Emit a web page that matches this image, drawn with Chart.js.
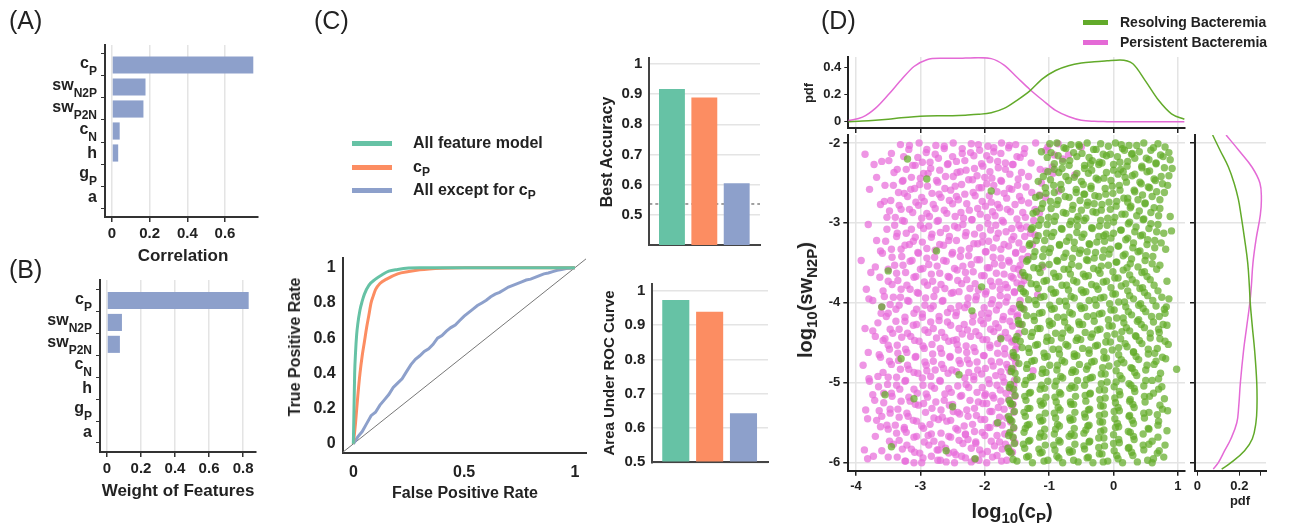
<!DOCTYPE html>
<html>
<head>
<meta charset="utf-8">
<script src="https://cdn.jsdelivr.net/npm/chart.js@4.4.1/dist/chart.umd.min.js"></script>
<style>
  html, body { margin: 0; padding: 0; background: #fff; }
  body { width: 1302px; height: 529px; position: relative; overflow: hidden;
         font-family: 'Liberation Sans', Arial, sans-serif; color: #222; }
  canvas { position: absolute; left: 0; top: 0; }
  .p { position: absolute; font-size: 25px; line-height: 1; z-index: 2; }
  .t { position: absolute; font-weight: bold; white-space: nowrap; line-height: 1; z-index: 2;
       transform: translate(-50%, -50%); }
  .r { transform: translate(-50%, -50%) rotate(-90deg); }
  .lg { position: absolute; font-weight: bold; white-space: nowrap; line-height: 1; z-index: 2;
        transform: translateY(-50%); }
  .sw { position: absolute; z-index: 2; }
  sub { font-size: 0.75em; vertical-align: -0.35em; line-height: 0; }
</style>
</head>
<body>
<div class="p" style="left:9px;top:8px">(A)</div>
<div class="p" style="left:9px;top:257px">(B)</div>
<div class="p" style="left:314px;top:8px">(C)</div>
<div class="p" style="left:821px;top:8px">(D)</div>

<div class="t" style="left:183px;top:255px;font-size:17px">Correlation</div>
<div class="t" style="left:178px;top:490px;font-size:17px">Weight of Features</div>
<div class="t r" style="left:295px;top:347px;font-size:16px">True Positive Rate</div>
<div class="t" style="left:465px;top:493px;font-size:16px">False Positive Rate</div>
<div class="t r" style="left:607px;top:152px;font-size:16px">Best Accuracy</div>
<div class="t r" style="left:608px;top:373px;font-size:15px">Area Under ROC Curve</div>
<div class="t r" style="left:808px;top:93px;font-size:13px">pdf</div>
<div class="t" style="left:1240px;top:500px;font-size:13px">pdf</div>
<div class="t" style="left:1012px;top:511px;font-size:20px">log<sub>10</sub>(c<sub>P</sub>)</div>
<div class="t r" style="left:805px;top:300px;font-size:20px">log<sub>10</sub>(sw<sub>N2P</sub>)</div>

<div class="sw" style="left:352px;top:141px;width:40px;height:5px;background:#66c2a5"></div>
<div class="sw" style="left:352px;top:165px;width:40px;height:5px;background:#fc8d62"></div>
<div class="sw" style="left:352px;top:188px;width:40px;height:5px;background:#8da0cb"></div>
<div class="lg" style="left:413px;top:143px;font-size:16px">All feature model</div>
<div class="lg" style="left:413px;top:167px;font-size:16px">c<sub>P</sub></div>
<div class="lg" style="left:413px;top:190px;font-size:16px">All except for c<sub>P</sub></div>

<div class="sw" style="left:1083px;top:20px;width:25px;height:5px;background:#62aa2a"></div>
<div class="sw" style="left:1083px;top:40px;width:25px;height:5px;background:#e46ad6"></div>
<div class="lg" style="left:1120px;top:22px;font-size:14px">Resolving Bacteremia</div>
<div class="lg" style="left:1120px;top:42px;font-size:14px">Persistent Bacteremia</div>

<script>
// ---- data ----
const featureBase = ['c', 'sw', 'sw', 'c', 'h', 'g', 'a'];
const featureSub = ['P', 'N2P', 'P2N', 'N', '', 'P', ''];
const correlation = [0.75, 0.178, 0.167, 0.041, 0.033, 0.004, 0];
const featureWeight = [0.833, 0.088, 0.076, 0, 0, 0, 0];
const corrTicks = [0, 0.2, 0.4, 0.6];
const weightTicks = [0, 0.2, 0.4, 0.6, 0.8];

const bestAccuracy = [0.917, 0.889, 0.605];
const accuracyBaseline = 0.536;
const rocAuc = [0.973, 0.939, 0.643];
const scoreTicks = [0.5, 0.6, 0.7, 0.8, 0.9, 1];

const fprAll = [0, 0.003, 0.006, 0.01, 0.015, 0.02, 0.03, 0.04, 0.05, 0.07, 0.1, 0.13, 0.16, 0.2, 0.25, 0.3, 0.5, 1];
const tprAll = [0, 0.2, 0.4, 0.52, 0.62, 0.68, 0.76, 0.81, 0.85, 0.9, 0.935, 0.96, 0.98, 0.99, 0.998, 1, 1, 1];
const fprCp = [0, 0.01, 0.02, 0.03, 0.04, 0.05, 0.06, 0.07, 0.08, 0.09, 0.1, 0.12, 0.15, 0.2, 0.25, 0.3, 0.4, 0.5, 1];
const tprCp = [0, 0.12, 0.27, 0.4, 0.5, 0.58, 0.66, 0.73, 0.8, 0.84, 0.875, 0.91, 0.935, 0.965, 0.978, 0.988, 0.997, 1, 1];
const fprNoCp = [0, 0.02, 0.04, 0.06, 0.08, 0.1, 0.12, 0.14, 0.16, 0.18, 0.2, 0.22, 0.24, 0.26, 0.28, 0.3, 0.32, 0.34, 0.36, 0.38,
  0.4, 0.42, 0.44, 0.46, 0.48, 0.5, 0.52, 0.54, 0.56, 0.58, 0.6, 0.62, 0.64, 0.66, 0.68, 0.7, 0.72, 0.74, 0.76, 0.78,
  0.8, 0.82, 0.84, 0.86, 0.88, 0.9, 0.92, 0.94, 0.96, 0.98, 1];
const tprNoCp = [0, 0.04, 0.07, 0.115, 0.16, 0.18, 0.22, 0.25, 0.28, 0.32, 0.345, 0.37, 0.41, 0.45, 0.48, 0.5, 0.525, 0.54, 0.565, 0.6,
  0.615, 0.64, 0.66, 0.675, 0.7, 0.725, 0.745, 0.765, 0.785, 0.8, 0.815, 0.835, 0.85, 0.86, 0.875, 0.89, 0.9, 0.91, 0.92, 0.93,
  0.935, 0.945, 0.955, 0.965, 0.97, 0.978, 0.985, 0.99, 0.995, 0.997, 1];
const chanceLine = [-0.05, 1.05];

const rocXTicks = [0, 0.5, 1];
const rocYTicks = [0, 0.2, 0.4, 0.6, 0.8, 1];

// marginal pdf of log10(cP)
const kdeCp = [-4.12, -3.9, -3.7, -3.5, -3.3, -3.1, -2.9, -2.7, -2.5, -2.3, -2.1, -1.9, -1.7, -1.5, -1.3, -1.1, -0.9, -0.7, -0.5, -0.3, -0.1, 0.1, 0.3, 0.5, 0.7, 0.9, 1.1];
const pdfCpPersistent = [0.01, 0.035, 0.1, 0.2, 0.31, 0.41, 0.46, 0.47, 0.47, 0.472, 0.475, 0.468, 0.42, 0.33, 0.24, 0.16, 0.085, 0.04, 0.012, 0.004, 0.002, 0.001, 0.001, 0.001, 0.001, 0.001, 0.001];
const pdfCpResolving = [0.002, 0.006, 0.012, 0.02, 0.03, 0.038, 0.043, 0.045, 0.046, 0.05, 0.056, 0.068, 0.1, 0.16, 0.23, 0.32, 0.38, 0.415, 0.435, 0.445, 0.452, 0.458, 0.43, 0.3, 0.16, 0.06, 0.02];
// marginal pdf of log10(swN2P)
const kdeSw = [-1.9, -2.1, -2.3, -2.5, -2.7, -2.9, -3.2, -3.5, -3.8, -4.0, -4.3, -4.6, -5.0, -5.3, -5.5, -5.7, -5.85, -6.0, -6.08];
const pdfSwPersistent = [0.137, 0.2, 0.26, 0.298, 0.305, 0.3, 0.28, 0.265, 0.257, 0.25, 0.235, 0.22, 0.205, 0.197, 0.188, 0.16, 0.13, 0.1, 0.076];
const pdfSwResolving = [0.073, 0.11, 0.148, 0.175, 0.195, 0.208, 0.225, 0.24, 0.248, 0.252, 0.262, 0.273, 0.283, 0.284, 0.279, 0.262, 0.225, 0.16, 0.116];

const cpTicks = [-4, -3, -2, -1, 0, 1];
const swTicks = [-6, -5, -4, -3, -2];
const pdfTopTicks = [0, 0.2, 0.4];
const pdfSideTicks = [0, 0.2, 0.3];

// [log10(cP), log10(swN2P)]
const persistentPts = [
  [-3.31,-2.02],[-3.02,-2.0],[-2.76,-2.03],[-2.49,-2.0],[-2.21,-2.01],[-1.95,-2.04],[-1.74,-2.0],[-1.52,-2.02],[-1.21,-2.0],[-0.86,-2.01],
  [-3.86,-2.14],[-3.18,-2.08],[-2.91,-2.12],[-2.63,-2.07],[-2.35,-2.13],[-2.08,-2.09],[-1.86,-2.11],[-1.63,-2.06],[-1.39,-2.13],[-1.05,-2.09],
  [-3.49,-2.22],[-3.26,-2.17],[-2.97,-2.24],[-2.72,-2.19],[-2.44,-2.23],[-2.17,-2.16],[-1.92,-2.21],[-1.68,-2.25],[-1.45,-2.18],[-0.79,-2.2],
  [-3.72,-2.27],[-3.36,-2.33],[-3.08,-2.28],[-2.84,-2.32],[-2.57,-2.26],[-2.29,-2.34],[-2.03,-2.29],[-1.79,-2.31],[-1.56,-2.27],[-1.14,-2.33],
  [-3.41,-2.37],[-3.14,-2.43],[-2.88,-2.38],[-2.61,-2.42],[-2.38,-2.36],[-2.12,-2.41],[-1.89,-2.44],[-1.61,-2.39],[-1.32,-2.42],[-0.94,-2.38],
  [-3.55,-2.53],[-3.27,-2.47],[-3.01,-2.52],[-2.73,-2.49],[-2.46,-2.54],[-2.19,-2.46],[-1.97,-2.51],[-1.74,-2.48],[-1.49,-2.53],[-1.12,-2.5],
  [-3.79,-2.58],[-3.34,-2.62],[-3.09,-2.57],[-2.82,-2.63],[-2.53,-2.59],[-2.31,-2.64],[-2.05,-2.56],[-1.81,-2.61],[-1.58,-2.58],[-1.27,-2.62],
  [-3.46,-2.72],[-3.2,-2.67],[-2.94,-2.73],[-2.68,-2.68],[-2.41,-2.71],[-2.15,-2.66],[-1.9,-2.74],[-1.66,-2.69],[-1.43,-2.72],[-1.06,-2.68],
  [-3.62,-2.77],[-3.3,-2.83],[-3.03,-2.78],[-2.77,-2.82],[-2.5,-2.76],[-2.24,-2.84],[-1.99,-2.79],[-1.77,-2.81],[-1.53,-2.77],[-1.22,-2.83],
  [-3.39,-2.93],[-3.12,-2.87],[-2.86,-2.92],[-2.59,-2.88],[-2.33,-2.94],[-2.07,-2.89],[-1.84,-2.91],[-1.6,-2.86],[-1.37,-2.93],[-1.15,-2.88],
  [-3.81,-3.02],[-3.28,-2.97],[-3.0,-3.03],[-2.74,-2.98],[-2.47,-3.04],[-2.2,-2.96],[-1.95,-3.01],[-1.71,-2.99],[-1.47,-3.03],[-1.24,-2.97],
  [-3.52,-3.08],[-3.22,-3.13],[-2.95,-3.07],[-2.69,-3.12],[-2.42,-3.06],[-2.16,-3.14],[-1.91,-3.09],[-1.67,-3.11],[-1.44,-3.07],[-1.29,-3.13],
  [-3.37,-3.17],[-3.11,-3.23],[-2.83,-3.18],[-2.56,-3.22],[-2.3,-3.16],[-2.04,-3.24],[-1.82,-3.19],[-1.58,-3.21],[-1.38,-3.17],[-3.68,-3.22],
  [-3.45,-3.33],[-3.17,-3.27],[-2.9,-3.32],[-2.64,-3.28],[-2.37,-3.34],[-2.11,-3.26],[-1.87,-3.31],[-1.63,-3.29],[-1.41,-3.33],[-1.26,-3.27],
  [-3.59,-3.38],[-3.29,-3.42],[-3.04,-3.37],[-2.78,-3.43],[-2.51,-3.39],[-2.25,-3.41],[-1.98,-3.36],[-1.75,-3.44],[-1.52,-3.38],[-1.33,-3.42],
  [-3.4,-3.53],[-3.13,-3.47],[-2.87,-3.52],[-2.6,-3.48],[-2.34,-3.54],[-2.08,-3.46],[-1.85,-3.51],[-1.62,-3.49],[-1.45,-3.53],[-3.92,-3.47],
  [-3.5,-3.58],[-3.23,-3.62],[-2.96,-3.57],[-2.7,-3.63],[-2.43,-3.59],[-2.18,-3.61],[-1.93,-3.56],[-1.7,-3.64],[-1.48,-3.58],[-3.77,-3.62],
  [-3.35,-3.72],[-3.07,-3.67],[-2.81,-3.73],[-2.55,-3.68],[-2.28,-3.71],[-2.01,-3.66],[-1.78,-3.74],[-1.56,-3.69],[-1.39,-3.72],[-3.63,-3.68],
  [-3.44,-3.77],[-3.16,-3.83],[-2.89,-3.78],[-2.62,-3.82],[-2.36,-3.76],[-2.1,-3.84],[-1.88,-3.79],[-1.65,-3.81],[-1.43,-3.77],[-3.84,-3.83],
  [-3.31,-3.93],[-3.05,-3.87],[-2.79,-3.92],[-2.52,-3.88],[-2.26,-3.94],[-1.99,-3.89],[-1.76,-3.91],[-1.54,-3.86],[-3.56,-3.92],[-2.4,-3.86],
  [-3.47,-4.02],[-3.2,-3.97],[-2.93,-4.03],[-2.66,-3.98],[-2.4,-4.04],[-2.14,-3.96],[-1.9,-4.01],[-1.67,-3.99],[-1.46,-4.03],[-3.74,-3.97],
  [-3.38,-4.08],[-3.1,-4.13],[-2.84,-4.07],[-2.58,-4.12],[-2.31,-4.06],[-2.05,-4.14],[-1.82,-4.09],[-1.59,-4.11],[-1.41,-4.07],[-3.61,-4.13],
  [-3.53,-4.17],[-3.24,-4.23],[-2.97,-4.18],[-2.71,-4.22],[-2.45,-4.16],[-2.19,-4.24],[-1.95,-4.19],[-1.72,-4.21],[-1.5,-4.17],[-2.58,-4.24],
  [-3.33,-4.33],[-3.06,-4.27],[-2.8,-4.32],[-2.53,-4.28],[-2.27,-4.34],[-2.02,-4.26],[-1.79,-4.31],[-1.57,-4.29],[-3.86,-4.32],[-1.44,-4.27],
  [-3.43,-4.38],[-3.15,-4.42],[-2.88,-4.37],[-2.62,-4.43],[-2.35,-4.39],[-2.09,-4.41],[-1.86,-4.36],[-1.64,-4.44],[-1.47,-4.38],[-3.7,-4.42],
  [-3.36,-4.53],[-3.09,-4.47],[-2.82,-4.52],[-2.56,-4.48],[-2.29,-4.54],[-2.03,-4.46],[-1.8,-4.51],[-1.58,-4.49],[-3.58,-4.47],[-2.44,-4.46],
  [-3.48,-4.58],[-3.21,-4.62],[-2.94,-4.57],[-2.67,-4.63],[-2.41,-4.59],[-2.15,-4.61],[-1.92,-4.56],[-1.69,-4.64],[-1.52,-4.58],[-3.81,-4.62],
  [-3.34,-4.72],[-3.07,-4.67],[-2.8,-4.73],[-2.54,-4.68],[-2.27,-4.71],[-2.01,-4.66],[-1.77,-4.74],[-1.55,-4.69],[-3.62,-4.68],[-2.12,-4.74],
  [-3.45,-4.77],[-3.18,-4.83],[-2.91,-4.78],[-2.64,-4.82],[-2.38,-4.76],[-2.11,-4.84],[-1.87,-4.79],[-1.64,-4.81],[-3.89,-4.78],[-2.77,-4.84],
  [-3.37,-4.93],[-3.1,-4.87],[-2.84,-4.92],[-2.57,-4.88],[-2.31,-4.94],[-2.05,-4.89],[-1.83,-4.91],[-1.61,-4.86],[-3.66,-4.92],[-2.44,-4.86],
  [-3.51,-5.02],[-3.23,-4.97],[-2.96,-5.03],[-2.69,-4.98],[-2.42,-5.04],[-2.17,-4.96],[-1.93,-5.01],[-1.7,-4.99],[-1.55,-5.03],[-3.79,-4.98],
  [-3.32,-5.08],[-3.05,-5.13],[-2.78,-5.07],[-2.52,-5.12],[-2.25,-5.06],[-1.99,-5.14],[-1.76,-5.09],[-1.57,-5.11],[-3.57,-5.13],[-2.62,-5.14],
  [-3.44,-5.17],[-3.16,-5.23],[-2.89,-5.18],[-2.63,-5.22],[-2.36,-5.16],[-2.1,-5.24],[-1.86,-5.19],[-1.63,-5.21],[-3.71,-5.22],[-2.0,-5.16],
  [-3.35,-5.33],[-3.08,-5.27],[-2.82,-5.32],[-2.55,-5.28],[-2.28,-5.34],[-2.03,-5.26],[-1.79,-5.31],[-1.58,-5.29],[-3.85,-5.34],[-2.95,-5.26],
  [-3.47,-5.38],[-3.19,-5.42],[-2.92,-5.37],[-2.66,-5.43],[-2.39,-5.39],[-2.13,-5.41],[-1.89,-5.36],[-1.66,-5.44],[-3.6,-5.42],[-2.49,-5.36],
  [-3.39,-5.53],[-3.11,-5.47],[-2.85,-5.52],[-2.59,-5.48],[-2.32,-5.54],[-2.06,-5.46],[-1.82,-5.51],[-1.6,-5.49],[-3.68,-5.47],[-2.72,-5.46],
  [-3.5,-5.58],[-3.22,-5.62],[-2.95,-5.57],[-2.68,-5.63],[-2.42,-5.59],[-2.16,-5.61],[-1.92,-5.56],[-1.69,-5.64],[-3.25,-5.56],[-2.3,-5.64],
  [-3.33,-5.72],[-3.06,-5.67],[-2.79,-5.73],[-2.53,-5.68],[-2.26,-5.71],[-2.0,-5.66],[-1.77,-5.74],[-1.56,-5.69],[-2.88,-5.66],[-2.14,-5.74],
  [-3.87,-5.84],[-3.42,-5.77],[-3.14,-5.83],[-2.87,-5.78],[-2.61,-5.82],[-2.34,-5.76],[-2.08,-5.84],[-1.85,-5.79],[-1.63,-5.81],[-2.72,-5.84],
  [-3.36,-5.93],[-3.09,-5.87],[-2.83,-5.92],[-2.56,-5.88],[-2.3,-5.94],[-2.04,-5.89],[-1.81,-5.91],[-1.6,-5.86],[-3.73,-5.92],[-2.45,-5.9],
  [-3.24,-5.98],[-2.98,-6.0],[-2.73,-5.97],[-2.47,-6.0],[-2.21,-5.99],[-1.97,-6.0],[-1.74,-5.98],[-2.6,-5.99],[-3.1,-6.0],[-2.09,-5.97],
  [-0.95,-2.3],[-0.7,-2.15],[-0.5,-2.05],[-1.1,-3.55],[-0.85,-2.6],[-1.25,-4.85],[-0.6,-2.4],[-1.18,-3.9],
  [-3.17,-2.03],[-2.9,-2.08],[-2.63,-2.04],[-2.35,-2.07],[-2.1,-2.02],[-1.86,-2.06],[-1.62,-2.03],[-1.38,-2.07],[-1.02,-2.05],
  [-3.45,-2.13],[-3.04,-2.18],[-2.77,-2.14],[-2.5,-2.17],[-2.22,-2.12],[-1.97,-2.16],[-1.75,-2.13],[-1.5,-2.17],[-0.92,-2.15],
  [-3.6,-2.23],[-3.12,-2.28],[-2.85,-2.24],[-2.58,-2.27],[-2.31,-2.22],[-2.05,-2.26],[-1.8,-2.23],[-1.57,-2.27],[-1.28,-2.25],
  [-3.22,-2.33],[-2.95,-2.38],[-2.7,-2.34],[-2.43,-2.37],[-2.16,-2.32],[-1.92,-2.36],[-1.68,-2.33],[-1.43,-2.37],[-1.05,-2.35],
  [-3.68,-2.43],[-3.28,-2.48],[-3.0,-2.44],[-2.75,-2.47],[-2.49,-2.42],[-2.25,-2.46],[-2.0,-2.43],[-1.75,-2.47],[-1.48,-2.45],
  [-3.42,-2.53],[-3.15,-2.58],[-2.89,-2.54],[-2.62,-2.57],[-2.36,-2.52],[-2.09,-2.56],[-1.86,-2.53],[-1.62,-2.57],[-1.36,-2.55],
  [-3.25,-2.63],[-2.98,-2.68],[-2.71,-2.64],[-2.44,-2.67],[-2.18,-2.62],[-1.93,-2.66],[-1.7,-2.63],[-1.46,-2.67],[-1.15,-2.65],
  [-3.56,-2.73],[-3.33,-2.78],[-3.07,-2.74],[-2.8,-2.77],[-2.55,-2.72],[-2.28,-2.76],[-2.04,-2.73],[-1.8,-2.77],[-1.32,-2.75],
  [-3.17,-2.83],[-2.9,-2.88],[-2.63,-2.84],[-2.37,-2.87],[-2.11,-2.82],[-1.88,-2.86],[-1.65,-2.83],[-1.41,-2.87],[-3.48,-2.85],
  [-3.52,-2.93],[-3.25,-2.98],[-2.98,-2.94],[-2.72,-2.97],[-2.46,-2.92],[-2.2,-2.96],[-1.96,-2.93],[-1.73,-2.97],[-1.5,-2.95],
  [-3.4,-3.03],[-3.14,-3.08],[-2.87,-3.04],[-2.6,-3.07],[-2.34,-3.02],[-2.08,-3.06],[-1.83,-3.03],[-1.58,-3.07],[-1.35,-3.05],
  [-3.36,-3.13],[-3.08,-3.18],[-2.82,-3.14],[-2.55,-3.17],[-2.29,-3.12],[-2.03,-3.16],[-1.79,-3.13],[-1.55,-3.17],[-1.22,-3.15],
  [-3.54,-3.23],[-3.24,-3.28],[-2.97,-3.24],[-2.7,-3.27],[-2.44,-3.22],[-2.17,-3.26],[-1.94,-3.23],[-1.7,-3.27],[-1.47,-3.25],
  [-3.3,-3.33],[-3.03,-3.38],[-2.77,-3.34],[-2.5,-3.37],[-2.24,-3.32],[-1.99,-3.36],[-1.75,-3.33],[-1.52,-3.37],[-3.62,-3.35],
  [-3.44,-3.43],[-3.16,-3.48],[-2.9,-3.44],[-2.64,-3.47],[-2.38,-3.42],[-2.12,-3.46],[-1.87,-3.43],[-1.63,-3.47],[-1.42,-3.45],
  [-3.27,-3.53],[-3.0,-3.58],[-2.74,-3.54],[-2.47,-3.57],[-2.21,-3.52],[-1.96,-3.56],[-1.73,-3.53],[-1.55,-3.57],[-3.7,-3.55],
  [-3.37,-3.63],[-3.1,-3.68],[-2.83,-3.64],[-2.57,-3.67],[-2.3,-3.62],[-2.05,-3.66],[-1.82,-3.63],[-1.59,-3.67],[-1.44,-3.65],
  [-3.5,-3.73],[-3.21,-3.78],[-2.94,-3.74],[-2.68,-3.77],[-2.42,-3.72],[-2.15,-3.76],[-1.91,-3.73],[-1.68,-3.77],[-1.5,-3.75],
  [-3.3,-3.83],[-3.03,-3.88],[-2.76,-3.84],[-2.49,-3.87],[-2.23,-3.82],[-1.98,-3.86],[-1.76,-3.83],[-1.54,-3.87],[-3.58,-3.85],
  [-3.42,-3.93],[-3.18,-3.98],[-2.92,-3.94],[-2.65,-3.97],[-2.13,-3.92],[-1.88,-3.96],[-1.65,-3.93],[-1.45,-3.97],[-3.8,-3.95],
  [-3.33,-4.03],[-3.06,-4.08],[-2.8,-4.04],[-2.53,-4.07],[-2.27,-4.02],[-2.01,-4.06],[-1.78,-4.03],[-1.56,-4.07],[-3.6,-4.05],
  [-3.5,-4.13],[-3.24,-4.18],[-2.97,-4.14],[-2.71,-4.17],[-2.44,-4.12],[-2.18,-4.16],[-1.94,-4.13],[-1.71,-4.17],[-1.49,-4.15],
  [-3.38,-4.23],[-3.11,-4.28],[-2.84,-4.24],[-2.32,-4.27],[-2.06,-4.22],[-1.83,-4.26],[-1.61,-4.23],[-1.46,-4.27],[-3.66,-4.25],
  [-3.47,-4.33],[-3.2,-4.38],[-2.93,-4.34],[-2.67,-4.37],[-2.4,-4.32],[-2.14,-4.36],[-1.91,-4.33],[-1.68,-4.37],[-3.74,-4.35],
  [-3.29,-4.43],[-3.02,-4.48],[-2.75,-4.44],[-2.49,-4.47],[-2.22,-4.42],[-1.97,-4.46],[-1.75,-4.43],[-1.55,-4.47],[-3.55,-4.45],
  [-3.5,-4.53],[-3.23,-4.58],[-2.96,-4.54],[-2.69,-4.57],[-2.43,-4.52],[-2.17,-4.56],[-1.92,-4.53],[-1.69,-4.57],[-1.5,-4.55],
  [-3.35,-4.63],[-3.08,-4.68],[-2.81,-4.64],[-2.54,-4.67],[-2.28,-4.62],[-2.02,-4.66],[-1.8,-4.63],[-1.58,-4.67],[-3.64,-4.65],
  [-3.48,-4.73],[-3.2,-4.78],[-2.93,-4.74],[-2.67,-4.77],[-2.4,-4.72],[-2.24,-4.76],[-1.9,-4.73],[-1.66,-4.77],[-1.52,-4.75],
  [-3.31,-4.83],[-3.04,-4.88],[-2.51,-4.84],[-2.25,-4.87],[-1.99,-4.82],[-1.75,-4.86],[-1.56,-4.83],[-3.58,-4.87],[-2.9,-4.85],
  [-3.5,-4.93],[-3.24,-4.98],[-2.97,-4.94],[-2.7,-4.97],[-2.17,-4.92],[-1.94,-4.96],[-1.72,-4.93],[-1.54,-4.97],[-3.8,-4.95],
  [-3.37,-5.03],[-3.1,-5.08],[-2.83,-5.04],[-2.56,-5.07],[-2.29,-5.02],[-2.04,-5.06],[-1.81,-5.03],[-1.61,-5.07],[-3.65,-5.05],
  [-3.45,-5.13],[-3.18,-5.18],[-2.91,-5.14],[-2.38,-5.17],[-2.12,-5.12],[-1.88,-5.16],[-1.67,-5.13],[-1.53,-5.17],[-3.74,-5.15],
  [-3.3,-5.23],[-3.03,-5.28],[-2.76,-5.24],[-2.5,-5.27],[-2.23,-5.22],[-1.97,-5.26],[-1.75,-5.23],[-1.56,-5.27],[-3.57,-5.25],
  [-3.47,-5.33],[-3.21,-5.38],[-2.68,-5.34],[-2.42,-5.37],[-2.16,-5.32],[-1.92,-5.36],[-1.7,-5.33],[-1.55,-5.37],[-3.64,-5.35],
  [-3.33,-5.43],[-3.06,-5.48],[-2.79,-5.44],[-2.53,-5.47],[-2.26,-5.42],[-2.0,-5.46],[-1.77,-5.43],[-1.6,-5.47],[-3.82,-5.45],
  [-3.52,-5.53],[-3.25,-5.58],[-2.98,-5.54],[-2.45,-5.57],[-2.19,-5.52],[-1.95,-5.56],[-1.73,-5.53],[-1.55,-5.57],[-3.62,-5.55],
  [-3.37,-5.63],[-3.1,-5.68],[-2.83,-5.64],[-2.56,-5.67],[-2.04,-5.62],[-1.81,-5.66],[-1.62,-5.63],[-3.7,-5.67],[-2.3,-5.65],
  [-3.48,-5.73],[-3.21,-5.78],[-2.94,-5.74],[-2.67,-5.77],[-2.4,-5.72],[-2.14,-5.76],[-1.9,-5.73],[-1.68,-5.77],[-1.53,-5.75],
  [-3.28,-5.83],[-3.01,-5.88],[-2.74,-5.84],[-2.48,-5.87],[-2.21,-5.82],[-1.96,-5.86],[-1.73,-5.83],[-1.57,-5.87],[-3.6,-5.85],
  [-3.5,-5.93],[-3.23,-5.98],[-2.96,-5.94],[-2.69,-5.97],[-2.36,-5.92],[-2.16,-5.96],[-1.88,-5.93],[-1.66,-5.97],[-3.82,-5.95]
];
const resolvingPts = [
  [-0.88,-2.0],[-0.66,-2.02],[-0.41,-2.0],[-0.2,-2.01],[0.03,-2.0],[0.24,-2.03],[0.47,-2.0],[0.69,-2.01],[-0.53,-2.04],[0.12,-2.02],
  [-0.97,-2.12],[-0.74,-2.07],[-0.49,-2.13],[-0.27,-2.08],[-0.05,-2.14],[0.17,-2.09],[0.4,-2.11],[0.62,-2.06],[0.86,-2.12],[0.28,-2.14],
  [-1.03,-2.18],[-0.79,-2.23],[-0.57,-2.17],[-0.33,-2.22],[-0.11,-2.16],[0.1,-2.24],[0.33,-2.19],[0.55,-2.21],[0.77,-2.17],[-0.18,-2.25],
  [-0.92,-2.33],[-0.69,-2.28],[-0.45,-2.32],[-0.23,-2.27],[0.0,-2.34],[0.21,-2.29],[0.44,-2.31],[0.66,-2.26],[0.91,-2.32],[-0.36,-2.26],
  [-1.09,-2.42],[-0.85,-2.37],[-0.61,-2.43],[-0.39,-2.38],[-0.15,-2.44],[0.07,-2.39],[0.29,-2.41],[0.52,-2.36],[0.74,-2.42],[0.15,-2.36],
  [-1.17,-2.48],[-0.93,-2.53],[-0.7,-2.47],[-0.47,-2.52],[-0.24,-2.46],[-0.02,-2.54],[0.2,-2.49],[0.43,-2.51],[0.65,-2.47],[0.84,-2.53],
  [-1.05,-2.63],[-0.81,-2.58],[-0.58,-2.62],[-0.35,-2.57],[-0.12,-2.64],[0.1,-2.59],[0.33,-2.61],[0.56,-2.56],[0.79,-2.62],[-0.45,-2.64],
  [-1.21,-2.68],[-0.98,-2.73],[-0.75,-2.67],[-0.52,-2.72],[-0.29,-2.66],[-0.07,-2.74],[0.16,-2.69],[0.38,-2.71],[0.6,-2.67],[0.22,-2.74],
  [-1.12,-2.82],[-0.88,-2.77],[-0.64,-2.83],[-0.41,-2.78],[-0.19,-2.84],[0.04,-2.79],[0.26,-2.81],[0.49,-2.76],[0.72,-2.82],[-0.3,-2.76],
  [-1.25,-2.88],[-1.01,-2.93],[-0.78,-2.87],[-0.55,-2.92],[-0.32,-2.86],[-0.09,-2.94],[0.13,-2.89],[0.36,-2.91],[0.58,-2.87],[0.88,-2.92],
  [-1.16,-3.03],[-0.92,-2.98],[-0.68,-3.02],[-0.46,-2.97],[-0.22,-3.04],[0.0,-2.99],[0.23,-3.01],[0.46,-2.96],[0.69,-3.02],[-0.57,-2.96],
  [-1.28,-3.08],[-1.04,-3.13],[-0.81,-3.07],[-0.57,-3.12],[-0.34,-3.06],[-0.12,-3.14],[0.11,-3.09],[0.33,-3.11],[0.55,-3.07],[0.78,-3.13],
  [-1.2,-3.22],[-0.96,-3.17],[-0.73,-3.23],[-0.49,-3.18],[-0.26,-3.24],[-0.04,-3.19],[0.19,-3.21],[0.42,-3.16],[0.64,-3.22],[-0.15,-3.16],
  [-1.31,-3.28],[-1.08,-3.33],[-0.84,-3.27],[-0.61,-3.32],[-0.38,-3.26],[-0.15,-3.34],[0.07,-3.29],[0.3,-3.31],[0.52,-3.27],[0.81,-3.33],
  [-1.24,-3.42],[-1.0,-3.37],[-0.77,-3.43],[-0.53,-3.38],[-0.3,-3.44],[-0.07,-3.39],[0.15,-3.41],[0.38,-3.36],[0.61,-3.42],[-0.41,-3.36],
  [-1.35,-3.48],[-1.11,-3.53],[-0.88,-3.47],[-0.65,-3.52],[-0.42,-3.46],[-0.19,-3.54],[0.04,-3.49],[0.26,-3.51],[0.49,-3.47],[0.72,-3.53],
  [-1.41,-3.62],[-1.17,-3.57],[-0.93,-3.63],[-0.7,-3.58],[-0.47,-3.64],[-0.24,-3.59],[-0.01,-3.61],[0.21,-3.56],[0.44,-3.62],[0.67,-3.58],
  [-1.32,-3.68],[-1.08,-3.73],[-0.85,-3.67],[-0.62,-3.72],[-0.39,-3.66],[-0.16,-3.74],[0.07,-3.69],[0.29,-3.71],[0.52,-3.67],[0.83,-3.73],
  [-1.44,-3.82],[-1.2,-3.77],[-0.97,-3.83],[-0.73,-3.78],[-0.5,-3.84],[-0.27,-3.79],[-0.04,-3.81],[0.19,-3.76],[0.41,-3.82],[0.63,-3.78],
  [-1.37,-3.88],[-1.13,-3.93],[-0.9,-3.87],[-0.66,-3.92],[-0.43,-3.86],[-0.2,-3.94],[0.03,-3.89],[0.25,-3.91],[0.48,-3.87],[0.75,-3.93],
  [-1.46,-4.02],[-1.22,-3.97],[-0.99,-4.03],[-0.75,-3.98],[-0.52,-4.04],[-0.29,-3.96],[-0.06,-4.01],[0.17,-3.99],[0.39,-4.03],[0.61,-3.97],
  [-1.39,-4.08],[-1.15,-4.13],[-0.92,-4.07],[-0.68,-4.12],[-0.45,-4.06],[-0.22,-4.14],[0.01,-4.09],[0.23,-4.11],[0.46,-4.07],[0.8,-4.13],
  [-1.48,-4.22],[-1.24,-4.17],[-1.0,-4.23],[-0.77,-4.18],[-0.54,-4.24],[-0.31,-4.16],[-0.08,-4.21],[0.15,-4.19],[0.37,-4.23],[0.59,-4.17],
  [-1.42,-4.27],[-1.18,-4.32],[-0.95,-4.26],[-0.71,-4.31],[-0.48,-4.27],[-0.25,-4.34],[-0.02,-4.29],[0.2,-4.31],[0.43,-4.27],[0.7,-4.33],
  [-1.5,-4.42],[-1.26,-4.37],[-1.03,-4.43],[-0.79,-4.38],[-0.56,-4.44],[-0.33,-4.39],[-0.1,-4.41],[0.13,-4.36],[0.35,-4.42],[0.57,-4.38],
  [-1.45,-4.48],[-1.21,-4.53],[-0.97,-4.47],[-0.74,-4.52],[-0.51,-4.46],[-0.28,-4.54],[-0.05,-4.49],[0.18,-4.51],[0.4,-4.47],[0.85,-4.52],
  [-1.56,-4.62],[-1.32,-4.57],[-1.08,-4.63],[-0.85,-4.58],[-0.61,-4.64],[-0.38,-4.59],[-0.15,-4.61],[0.08,-4.56],[0.31,-4.62],[0.54,-4.58],
  [-1.51,-4.68],[-1.27,-4.73],[-1.03,-4.67],[-0.8,-4.72],[-0.57,-4.66],[-0.34,-4.74],[-0.11,-4.69],[0.12,-4.71],[0.35,-4.67],[0.66,-4.73],
  [-1.58,-4.82],[-1.34,-4.77],[-1.1,-4.83],[-0.87,-4.78],[-0.63,-4.84],[-0.4,-4.79],[-0.17,-4.81],[0.06,-4.76],[0.29,-4.82],[0.52,-4.78],
  [-1.53,-4.88],[-1.29,-4.93],[-1.05,-4.87],[-0.82,-4.92],[-0.59,-4.86],[-0.36,-4.94],[-0.13,-4.89],[0.1,-4.91],[0.33,-4.87],[0.98,-4.83],
  [-1.6,-5.02],[-1.36,-4.97],[-1.12,-5.03],[-0.89,-4.98],[-0.65,-5.04],[-0.42,-4.96],[-0.19,-5.01],[0.04,-4.99],[0.27,-5.03],[0.5,-4.97],
  [-1.55,-5.08],[-1.31,-5.13],[-1.07,-5.07],[-0.84,-5.12],[-0.6,-5.06],[-0.37,-5.14],[-0.14,-5.09],[0.09,-5.11],[0.32,-5.07],[0.62,-5.13],
  [-1.62,-5.22],[-1.38,-5.17],[-1.14,-5.23],[-0.91,-5.18],[-0.67,-5.24],[-0.44,-5.16],[-0.21,-5.21],[0.02,-5.19],[0.25,-5.23],[0.48,-5.17],
  [-1.57,-5.27],[-1.33,-5.32],[-1.09,-5.26],[-0.86,-5.31],[-0.62,-5.27],[-0.39,-5.34],[-0.16,-5.29],[0.07,-5.31],[0.3,-5.27],[0.76,-5.33],
  [-1.63,-5.42],[-1.39,-5.37],[-1.15,-5.43],[-0.92,-5.38],[-0.68,-5.44],[-0.45,-5.39],[-0.22,-5.41],[0.01,-5.36],[0.24,-5.42],[0.47,-5.38],
  [-1.58,-5.48],[-1.34,-5.53],[-1.1,-5.47],[-0.87,-5.52],[-0.63,-5.46],[-0.4,-5.54],[-0.17,-5.49],[0.06,-5.51],[0.29,-5.47],[0.69,-5.53],
  [-1.61,-5.62],[-1.37,-5.57],[-1.13,-5.63],[-0.9,-5.58],[-0.66,-5.64],[-0.43,-5.59],[-0.2,-5.61],[0.03,-5.56],[0.26,-5.62],[0.55,-5.58],
  [-1.56,-5.68],[-1.32,-5.73],[-1.08,-5.67],[-0.85,-5.72],[-0.61,-5.66],[-0.38,-5.74],[-0.15,-5.69],[0.08,-5.71],[0.31,-5.67],[0.6,-5.73],
  [-1.64,-5.82],[-1.4,-5.77],[-1.16,-5.83],[-0.93,-5.78],[-0.69,-5.84],[-0.46,-5.79],[-0.23,-5.81],[0.0,-5.76],[0.23,-5.82],[0.46,-5.78],
  [-1.59,-5.88],[-1.35,-5.93],[-1.11,-5.87],[-0.88,-5.92],[-0.64,-5.86],[-0.41,-5.94],[-0.18,-5.89],[0.05,-5.91],[0.28,-5.87],[0.78,-5.93],
  [-1.5,-5.98],[-1.26,-6.0],[-1.02,-5.97],[-0.79,-6.0],[-0.55,-5.99],[-0.32,-6.0],[-0.09,-5.98],[0.14,-6.0],[0.37,-5.99],[0.6,-6.0],
  [0.72,-4.45],[0.81,-4.7],[0.7,-4.95],[0.79,-5.2],[0.68,-5.4],[0.83,-5.6],[0.71,-5.85],[0.8,-5.78],[0.75,-5.05],[0.64,-4.63],
  [0.77,-4.27],[0.86,-3.95],[0.9,-3.1],[0.62,-5.95],[0.84,-5.35],[0.69,-3.85],[0.82,-4.05],[0.74,-3.25],
  [-3.5,-3.6],[-2.9,-2.45],[-3.3,-4.7],[-2.6,-5.85],[-3.45,-5.8],[-2.2,-4.1],[-2.75,-3.35],[-3.1,-5.2],[-1.9,-2.6],
  [-2.4,-4.9],[-3.55,-5.15],[-1.8,-5.5],[-2.05,-3.8],[-3.2,-2.2],[-2.5,-5.3],[-1.75,-4.45],[-3.6,-4.05],[-2.15,-5.95],
  [-0.77,-2.06],[-0.54,-2.02],[-0.31,-2.08],[-0.08,-2.04],[0.14,-2.07],[0.36,-2.03],[0.58,-2.09],[0.8,-2.05],[-0.99,-2.01],
  [-0.86,-2.16],[-0.62,-2.12],[-0.38,-2.18],[-0.16,-2.14],[0.06,-2.17],[0.29,-2.13],[0.51,-2.19],[0.73,-2.15],[-1.12,-2.11],
  [-0.92,-2.26],[-0.68,-2.22],[-0.45,-2.28],[-0.22,-2.24],[0.0,-2.27],[0.22,-2.23],[0.44,-2.29],[0.66,-2.25],[0.88,-2.21],
  [-1.02,-2.36],[-0.8,-2.32],[-0.57,-2.38],[-0.34,-2.34],[-0.11,-2.37],[0.11,-2.33],[0.33,-2.39],[0.56,-2.35],[0.79,-2.31],
  [-0.98,-2.46],[-0.74,-2.42],[-0.5,-2.48],[-0.27,-2.44],[-0.04,-2.47],[0.18,-2.43],[0.41,-2.49],[0.63,-2.45],[0.86,-2.41],
  [-1.06,-2.56],[-0.82,-2.52],[-0.58,-2.58],[-0.35,-2.54],[-0.13,-2.57],[0.09,-2.53],[0.32,-2.59],[0.54,-2.55],[0.76,-2.51],
  [-1.15,-2.66],[-0.92,-2.62],[-0.69,-2.68],[-0.46,-2.64],[-0.23,-2.67],[-0.01,-2.63],[0.22,-2.69],[0.45,-2.65],[0.67,-2.61],
  [-1.1,-2.76],[-0.86,-2.72],[-0.63,-2.78],[-0.4,-2.74],[-0.18,-2.77],[0.05,-2.73],[0.27,-2.79],[0.49,-2.75],[0.72,-2.71],
  [-1.2,-2.86],[-0.97,-2.82],[-0.74,-2.88],[-0.5,-2.84],[-0.27,-2.87],[-0.05,-2.83],[0.18,-2.89],[0.4,-2.85],[0.63,-2.81],
  [-1.13,-2.96],[-0.9,-2.92],[-0.66,-2.98],[-0.43,-2.94],[-0.2,-2.97],[0.02,-2.93],[0.25,-2.99],[0.47,-2.95],[0.7,-2.91],
  [-1.26,-3.06],[-1.03,-3.02],[-0.8,-3.08],[-0.56,-3.04],[-0.33,-3.07],[-0.1,-3.03],[0.12,-3.09],[0.35,-3.05],[0.58,-3.01],
  [-1.17,-3.16],[-0.93,-3.12],[-0.69,-3.18],[-0.46,-3.14],[-0.23,-3.17],[0.0,-3.13],[0.22,-3.19],[0.45,-3.15],[0.67,-3.11],
  [-1.3,-3.26],[-1.07,-3.22],[-0.84,-3.28],[-0.61,-3.24],[-0.37,-3.27],[-0.14,-3.23],[0.08,-3.29],[0.31,-3.25],[0.53,-3.21],
  [-1.22,-3.36],[-0.98,-3.32],[-0.74,-3.38],[-0.51,-3.34],[-0.28,-3.37],[-0.05,-3.33],[0.18,-3.39],[0.41,-3.35],[0.64,-3.31],
  [-1.33,-3.46],[-1.1,-3.42],[-0.87,-3.48],[-0.64,-3.44],[-0.4,-3.47],[-0.17,-3.43],[0.05,-3.49],[0.28,-3.45],[0.5,-3.41],
  [-1.24,-3.56],[-1.0,-3.52],[-0.77,-3.58],[-0.54,-3.54],[-0.31,-3.57],[-0.08,-3.53],[0.15,-3.59],[0.38,-3.55],[0.6,-3.51],
  [-1.38,-3.66],[-1.14,-3.62],[-0.9,-3.68],[-0.67,-3.64],[-0.44,-3.67],[-0.21,-3.63],[0.02,-3.69],[0.25,-3.65],[0.48,-3.61],
  [-1.28,-3.76],[-1.04,-3.72],[-0.8,-3.78],[-0.57,-3.74],[-0.34,-3.77],[-0.11,-3.73],[0.12,-3.79],[0.35,-3.75],[0.57,-3.71],
  [-1.4,-3.86],[-1.17,-3.82],[-0.93,-3.88],[-0.7,-3.84],[-0.47,-3.87],[-0.24,-3.83],[-0.01,-3.89],[0.22,-3.85],[0.45,-3.81],
  [-1.32,-3.96],[-1.08,-3.92],[-0.84,-3.98],[-0.61,-3.94],[-0.38,-3.97],[-0.15,-3.93],[0.08,-3.99],[0.31,-3.95],[0.53,-3.91],
  [-1.44,-4.06],[-1.2,-4.02],[-0.96,-4.08],[-0.73,-4.04],[-0.5,-4.07],[-0.27,-4.03],[-0.04,-4.09],[0.19,-4.05],[0.42,-4.01],[0.66,-4.04],[0.79,-4.08],
  [-1.35,-4.16],[-1.11,-4.12],[-0.87,-4.18],[-0.64,-4.14],[-0.41,-4.17],[-0.18,-4.13],[0.05,-4.19],[0.28,-4.15],[0.5,-4.11],[0.71,-4.17],
  [-1.47,-4.26],[-1.23,-4.22],[-0.99,-4.28],[-0.76,-4.24],[-0.53,-4.27],[-0.3,-4.23],[-0.07,-4.29],[0.16,-4.25],[0.39,-4.21],[0.62,-4.24],[0.83,-4.28],
  [-1.38,-4.36],[-1.14,-4.32],[-0.9,-4.38],[-0.67,-4.34],[-0.44,-4.37],[-0.21,-4.33],[0.02,-4.39],[0.25,-4.35],[0.48,-4.31],[0.71,-4.37],
  [-1.52,-4.46],[-1.28,-4.42],[-1.04,-4.48],[-0.81,-4.44],[-0.58,-4.47],[-0.35,-4.43],[-0.12,-4.49],[0.11,-4.45],[0.34,-4.41],[0.57,-4.44],[0.8,-4.48],
  [-1.42,-4.56],[-1.18,-4.52],[-0.94,-4.58],[-0.71,-4.54],[-0.48,-4.57],[-0.25,-4.53],[-0.02,-4.59],[0.21,-4.55],[0.44,-4.51],[0.68,-4.57],
  [-1.55,-4.66],[-1.31,-4.62],[-1.07,-4.68],[-0.84,-4.64],[-0.61,-4.67],[-0.38,-4.63],[-0.15,-4.69],[0.08,-4.65],[0.31,-4.61],[0.54,-4.64],[0.76,-4.68],
  [-1.47,-4.76],[-1.23,-4.72],[-0.99,-4.78],[-0.76,-4.74],[-0.53,-4.77],[-0.3,-4.73],[-0.07,-4.79],[0.16,-4.75],[0.39,-4.71],[0.63,-4.77],
  [-1.59,-4.86],[-1.35,-4.82],[-1.11,-4.88],[-0.88,-4.84],[-0.65,-4.87],[-0.42,-4.83],[-0.19,-4.89],[0.04,-4.85],[0.27,-4.81],[0.5,-4.84],[0.73,-4.88],
  [-1.5,-4.96],[-1.26,-4.92],[-1.02,-4.98],[-0.79,-4.94],[-0.56,-4.97],[-0.33,-4.93],[-0.1,-4.99],[0.13,-4.95],[0.36,-4.91],[0.6,-4.97],
  [-1.62,-5.06],[-1.38,-5.02],[-1.14,-5.08],[-0.91,-5.04],[-0.68,-5.07],[-0.45,-5.03],[-0.22,-5.09],[0.01,-5.05],[0.24,-5.01],[0.47,-5.04],[0.7,-5.08],
  [-1.53,-5.16],[-1.29,-5.12],[-1.05,-5.18],[-0.82,-5.14],[-0.59,-5.17],[-0.36,-5.13],[-0.13,-5.19],[0.1,-5.15],[0.33,-5.11],[0.56,-5.17],
  [-1.6,-5.26],[-1.36,-5.22],[-1.12,-5.28],[-0.89,-5.24],[-0.66,-5.27],[-0.43,-5.23],[-0.2,-5.29],[0.03,-5.25],[0.26,-5.21],[0.49,-5.24],[0.72,-5.28],
  [-1.54,-5.36],[-1.3,-5.32],[-1.06,-5.38],[-0.83,-5.34],[-0.6,-5.37],[-0.37,-5.33],[-0.14,-5.39],[0.09,-5.35],[0.32,-5.31],[0.55,-5.37],
  [-1.61,-5.46],[-1.37,-5.42],[-1.13,-5.48],[-0.9,-5.44],[-0.67,-5.47],[-0.44,-5.43],[-0.21,-5.49],[0.02,-5.45],[0.25,-5.41],[0.48,-5.44],[0.7,-5.48],
  [-1.55,-5.56],[-1.31,-5.52],[-1.07,-5.58],[-0.84,-5.54],[-0.61,-5.57],[-0.38,-5.53],[-0.15,-5.59],[0.08,-5.55],[0.31,-5.51],[0.54,-5.57],
  [-1.63,-5.66],[-1.39,-5.62],[-1.15,-5.68],[-0.92,-5.64],[-0.69,-5.67],[-0.46,-5.63],[-0.23,-5.69],[0.0,-5.65],[0.23,-5.61],[0.46,-5.64],[0.69,-5.68],
  [-1.54,-5.76],[-1.3,-5.72],[-1.06,-5.78],[-0.83,-5.74],[-0.6,-5.77],[-0.37,-5.73],[-0.14,-5.79],[0.09,-5.75],[0.32,-5.71],[0.55,-5.77],
  [-1.62,-5.86],[-1.38,-5.82],[-1.14,-5.88],[-0.91,-5.84],[-0.68,-5.87],[-0.45,-5.83],[-0.22,-5.89],[0.01,-5.85],[0.24,-5.81],[0.47,-5.84],[0.68,-5.88],
  [-1.56,-5.96],[-1.32,-5.92],[-1.08,-5.98],[-0.85,-5.94],[-0.62,-5.97],[-0.39,-5.93],[-0.16,-5.99],[0.07,-5.95],[0.3,-5.91],[0.53,-5.97]
];

// ---- helpers ----
const W = 1302, H = 529;
const FONT = "'Liberation Sans', Arial, sans-serif";
const AXIS = '#333';
const GRID = '#e4e4e4';
const barBlue = '#8da0cb';
const modelColors = ['#66c2a5', '#fc8d62', '#8da0cb'];
const green = '#62aa2a', pink = '#e46ad6';

Chart.defaults.font.family = FONT;
Chart.defaults.font.weight = 'bold';
Chart.defaults.color = '#222';
Chart.defaults.animation = false;
Chart.defaults.events = [];
Chart.defaults.plugins.legend.display = false;
Chart.defaults.plugins.tooltip.enabled = false;

function makeCanvas() {
  const c = document.createElement('canvas');
  c.width = W;
  c.height = H;
  document.body.appendChild(c);
  return c.getContext('2d');
}
// place the plot area at page pixels L,T,R,B
function frame(L, T, R, B, yw, xh) {
  return { padding: { left: L - yw, top: T, right: W - R, bottom: H - B - xh } };
}
function fixedTicks(vals) {
  return s => { s.ticks = vals.map(v => ({ value: v })); };
}
function fitW(w) { return s => { s.width = w; }; }
function fitH(h) { return s => { s.height = h; }; }
function pairs(xs, ys) { return xs.map((x, i) => ({ x: x, y: ys[i] })); }

// feature names with subscripts, drawn at the y scale ticks
const featureLabels = {
  id: 'featureLabels',
  afterDraw(chart) {
    const ctx = chart.ctx;
    const ys = chart.scales.y;
    const right = chart.chartArea.left - 8;
    ctx.save();
    ctx.fillStyle = '#222';
    featureBase.forEach((b, i) => {
      const y = ys.getPixelForValue(i);
      const sub = featureSub[i];
      ctx.font = 'bold 16px ' + FONT;
      const bw = ctx.measureText(b).width;
      ctx.font = 'bold 12px ' + FONT;
      const sw = sub ? ctx.measureText(sub).width : 0;
      const x0 = right - bw - sw;
      ctx.font = 'bold 16px ' + FONT;
      ctx.textBaseline = 'alphabetic';
      if (sub) {
        ctx.fillText(b, x0, y + 3);
        ctx.font = 'bold 12px ' + FONT;
        ctx.fillText(sub, x0 + bw, y + 10);
      } else {
        ctx.fillText(b, x0, y + 5);
      }
    });
    ctx.restore();
  }
};

function featureChart(values, ticks, xmin, xmax, ymin, ymax, L, T, R, B) {
  new Chart(makeCanvas(), {
    type: 'bar',
    data: {
      datasets: [{
        data: values.map((v, i) => ({ x: v, y: i })),
        backgroundColor: barBlue,
        barPercentage: 0.78,
        categoryPercentage: 1
      }]
    },
    options: {
      responsive: false,
      indexAxis: 'y',
      layout: frame(L, T, R, B, 40, 30),
      scales: {
        x: {
          type: 'linear', min: xmin, max: xmax,
          afterBuildTicks: fixedTicks(ticks), afterFit: fitH(30),
          grid: { color: GRID, lineWidth: 1.5, tickColor: AXIS, tickLength: 5 },
          border: { color: AXIS, width: 2 },
          ticks: { font: { size: 15 }, padding: 3, callback: v => String(v) }
        },
        y: {
          type: 'linear', reverse: true, offset: false, min: ymin, max: ymax,
          afterBuildTicks: fixedTicks(featureBase.map((_, i) => i)), afterFit: fitW(40),
          grid: { drawOnChartArea: false, tickColor: AXIS, tickLength: 4 },
          border: { color: AXIS, width: 2 },
          ticks: { display: false }
        }
      }
    },
    plugins: [featureLabels]
  });
}

// (A) correlation, (B) weight of features
featureChart(correlation, corrTicks, -0.037, 0.775, -0.909, 6.909, 105, 45, 258, 217);
featureChart(featureWeight, weightTicks, -0.041, 0.876, -0.936, 6.913, 100, 280, 256, 452);

// (C) ROC curves
new Chart(makeCanvas(), {
  type: 'scatter',
  data: {
    datasets: [
      { data: pairs(fprAll, tprAll), borderColor: modelColors[0], cubicInterpolationMode: 'monotone' },
      { data: pairs(fprCp, tprCp), borderColor: modelColors[1], cubicInterpolationMode: 'monotone' },
      { data: pairs(fprNoCp, tprNoCp), borderColor: modelColors[2] },
      { data: pairs(chanceLine, chanceLine), borderColor: '#777', borderWidth: 1 }
    ].map(d => Object.assign({ showLine: true, pointRadius: 0, borderWidth: 3 }, d))
  },
  options: {
    responsive: false,
    layout: frame(342.7, 258, 586, 452.7, 45, 35),
    scales: {
      x: {
        min: -0.048, max: 1.05,
        afterBuildTicks: fixedTicks(rocXTicks), afterFit: fitH(35),
        grid: { display: false, drawTicks: false },
        border: { color: AXIS, width: 2 },
        ticks: { font: { size: 16 }, padding: 10, callback: v => String(v) }
      },
      y: {
        min: -0.05, max: 1.055,
        afterBuildTicks: fixedTicks(rocYTicks), afterFit: fitW(45),
        grid: { display: false, drawTicks: false },
        border: { color: AXIS, width: 2 },
        ticks: { font: { size: 16 }, padding: 7, callback: v => String(v) }
      }
    }
  }
});

// (C) score bars
function scoreChart(values, ymin, xmin, xmax, L, T, R, B, baseline) {
  const datasets = [{
    data: values.map((v, i) => ({ x: i, y: v })),
    backgroundColor: modelColors,
    base: ymin,
    barPercentage: 0.8,
    categoryPercentage: 1
  }];
  if (baseline !== undefined) {
    datasets.push({
      type: 'line',
      data: [{ x: xmin, y: baseline }, { x: xmax, y: baseline }],
      borderColor: '#444', borderWidth: 1, borderDash: [3, 3], pointRadius: 0
    });
  }
  new Chart(makeCanvas(), {
    type: 'bar',
    data: { datasets: datasets },
    options: {
      responsive: false,
      layout: frame(L, T, R, B, 45, 10),
      scales: {
        x: {
          type: 'linear', offset: false, min: xmin, max: xmax,
          afterBuildTicks: fixedTicks([0, 1, 2]), afterFit: fitH(10),
          grid: { display: false, drawTicks: false },
          border: { color: '#444', width: 2 },
          ticks: { display: false }
        },
        y: {
          min: ymin, max: 1.02,
          afterBuildTicks: fixedTicks(scoreTicks), afterFit: fitW(45),
          grid: { color: GRID, lineWidth: 1.5, drawTicks: false },
          border: { color: '#444', width: 2 },
          ticks: { font: { size: 15 }, padding: 7, callback: v => String(v) }
        }
      }
    }
  });
}
scoreChart(bestAccuracy, 0.4, -0.70, 2.72, 649.3, 58, 760, 245, accuracyBaseline);
scoreChart(rocAuc, 0.5, -0.694, 2.724, 652.3, 284, 768, 462.3);

// (D) marginal pdf of log10(cP)
const cpAxis = { min: -4.12, max: 1.11 };
new Chart(makeCanvas(), {
  type: 'scatter',
  data: {
    datasets: [
      { data: pairs(kdeCp, pdfCpResolving), borderColor: green },
      { data: pairs(kdeCp, pdfCpPersistent), borderColor: pink }
    ].map(d => Object.assign({ showLine: true, pointRadius: 0, borderWidth: 1.5, cubicInterpolationMode: 'monotone' }, d))
  },
  options: {
    responsive: false,
    layout: frame(848.3, 57, 1185, 128, 45, 12),
    scales: {
      x: {
        min: cpAxis.min, max: cpAxis.max,
        afterBuildTicks: fixedTicks(cpTicks), afterFit: fitH(12),
        grid: { color: GRID, lineWidth: 1.5, tickColor: '#222', tickLength: 5 },
        border: { color: '#222', width: 2 },
        ticks: { display: false }
      },
      y: {
        min: -0.045, max: 0.48,
        afterBuildTicks: fixedTicks(pdfTopTicks), afterFit: fitW(45),
        grid: { drawOnChartArea: false, tickColor: '#222', tickLength: 4 },
        border: { color: '#222', width: 2 },
        ticks: { font: { size: 13 }, padding: 3, callback: v => String(v) }
      }
    }
  }
});

// (D) scatter
new Chart(makeCanvas(), {
  type: 'scatter',
  data: {
    datasets: [
      { data: resolvingPts.map(p => ({ x: p[0], y: p[1] })), backgroundColor: 'rgba(98,172,40,0.72)' },
      { data: persistentPts.map(p => ({ x: p[0], y: p[1] })), backgroundColor: 'rgba(232,108,218,0.72)' }
    ].map(d => Object.assign({ pointRadius: 3.7, borderWidth: 0 }, d))
  },
  options: {
    responsive: false,
    layout: frame(848.3, 135, 1185, 470.7, 45, 30),
    scales: {
      x: {
        min: cpAxis.min, max: cpAxis.max,
        afterBuildTicks: fixedTicks(cpTicks), afterFit: fitH(30),
        grid: { color: GRID, lineWidth: 1.5, tickColor: '#222', tickLength: 5 },
        border: { color: '#222', width: 2 },
        ticks: { font: { size: 13 }, padding: 3, callback: v => String(v) }
      },
      y: {
        min: -6.1, max: -1.9,
        afterBuildTicks: fixedTicks(swTicks), afterFit: fitW(45),
        grid: { color: GRID, lineWidth: 1.5, tickColor: '#222', tickLength: 5 },
        border: { color: '#222', width: 2 },
        ticks: { font: { size: 13 }, padding: 3, callback: v => String(v) }
      }
    }
  }
});

// (D) marginal pdf of log10(swN2P)
new Chart(makeCanvas(), {
  type: 'scatter',
  data: {
    datasets: [
      { data: pairs(pdfSwResolving, kdeSw), borderColor: green },
      { data: pairs(pdfSwPersistent, kdeSw), borderColor: pink }
    ].map(d => Object.assign({ showLine: true, pointRadius: 0, borderWidth: 1.5, tension: 0.4 }, d))
  },
  options: {
    responsive: false,
    layout: frame(1195, 135, 1266, 470.7, 10, 30),
    scales: {
      x: {
        min: -0.011, max: 0.327,
        afterBuildTicks: fixedTicks(pdfSideTicks), afterFit: fitH(30),
        grid: { drawOnChartArea: false, tickColor: '#222', tickLength: 5 },
        border: { color: '#222', width: 2 },
        ticks: { font: { size: 13 }, padding: 3, callback: v => (v === 0.3 ? '' : String(v)) }
      },
      y: {
        min: -6.1, max: -1.9,
        afterBuildTicks: fixedTicks(swTicks), afterFit: fitW(10),
        grid: { color: GRID, lineWidth: 1.5, tickColor: '#222', tickLength: 5 },
        border: { color: '#222', width: 2 },
        ticks: { display: false }
      }
    }
  }
});
</script>
</body>
</html>
